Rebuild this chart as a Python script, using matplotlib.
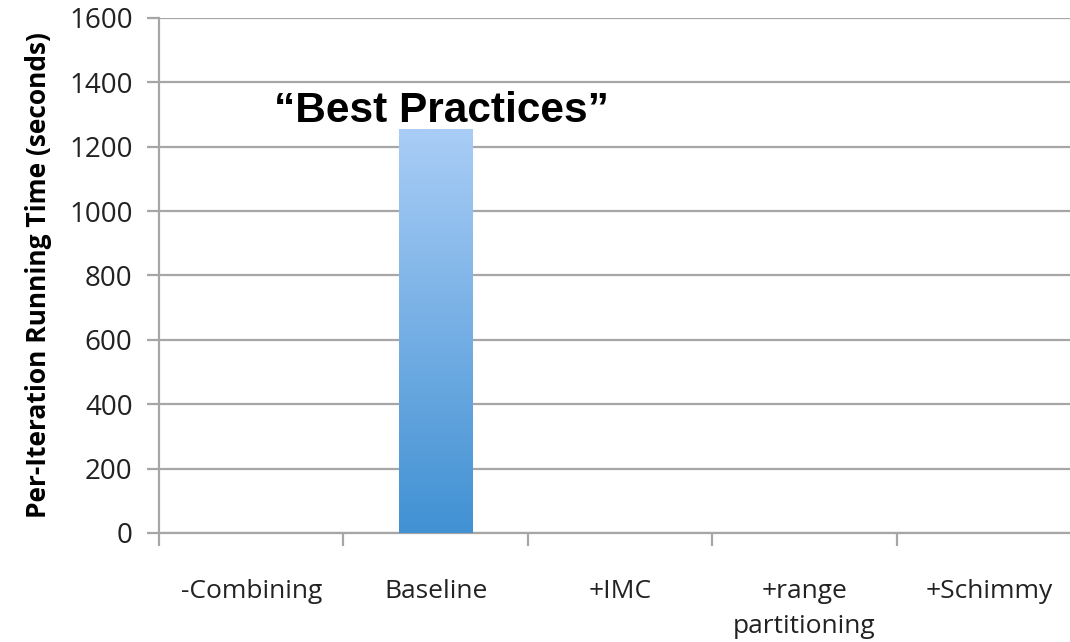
import numpy as np
import matplotlib
matplotlib.use("Agg")
import matplotlib.pyplot as plt
from matplotlib.colors import LinearSegmentedColormap

categories = ["-Combining", "Baseline", "+IMC", "+range\npartitioning", "+Schimmy"]
running_time = [0, 1255, 0, 0, 0]
y_ticks = [0, 200, 400, 600, 800, 1000, 1200, 1400, 1600]
annotation = "\u201cBest Practices\u201d"

plt.rcParams["font.family"] = ["Open Sans", "DejaVu Sans"]

fig = plt.figure(figsize=(10.7, 6.42), dpi=100)
ax = fig.add_axes([0.1486, 0.1698, 0.8617, 0.8022])

x = np.arange(len(categories))
ax.set_xlim(-0.5, len(categories) - 0.5)
ax.set_ylim(y_ticks[0], y_ticks[-1])

# gridlines
ax.set_yticks(y_ticks)
ax.yaxis.grid(True, color="#a6a6a6", linewidth=1.6)
ax.set_axisbelow(True)

# bars with vertical gradient fill
cmap = LinearSegmentedColormap.from_list("bar", ["#4191d3", "#a9cdf6"])
grad = np.linspace(0, 1, 256).reshape(-1, 1)
bars = ax.bar(x, running_time, width=0.4, facecolor="none", edgecolor="none", zorder=3)
for rect, val in zip(bars, running_time):
    if val <= 0:
        continue
    x0 = rect.get_x()
    w = rect.get_width()
    im = ax.imshow(grad, cmap=cmap, aspect="auto", origin="lower",
                   extent=(x0, x0 + w, 0, val), zorder=3)
    im.set_clip_path(rect)

ax.text(x[1] + 0.03, 1276, annotation, ha="center", va="baseline",
        fontsize=30.5, fontweight="bold", family=["Liberation Sans", "DejaVu Sans"])

# spines
for s in ["top", "right"]:
    ax.spines[s].set_visible(False)
ax.spines["left"].set_color("#a6a6a6")
ax.spines["left"].set_linewidth(1.6)
ax.spines["bottom"].set_color("#a6a6a6")
ax.spines["bottom"].set_linewidth(1.6)

# x: labels at centers, tick marks at category boundaries
ax.set_xticks(x)
ax.set_xticklabels(categories, fontsize=19, color="#222222", linespacing=1.55)
ax.tick_params(axis="x", which="major", length=0, pad=33)
ax.set_xticks(np.arange(-0.5, len(categories), 1.0), minor=True)
ax.tick_params(axis="x", which="minor", length=9, width=1.6, color="#a6a6a6", direction="out")

ax.set_yticklabels([str(t) for t in y_ticks], fontsize=20, color="#222222")
ax.tick_params(axis="y", length=9, width=1.6, color="#a6a6a6", pad=10)

ax.set_ylabel("Per-Iteration Running Time (seconds)", fontsize=19, fontweight="bold",
              labelpad=12)

fig.savefig("out.png", dpi=100)
